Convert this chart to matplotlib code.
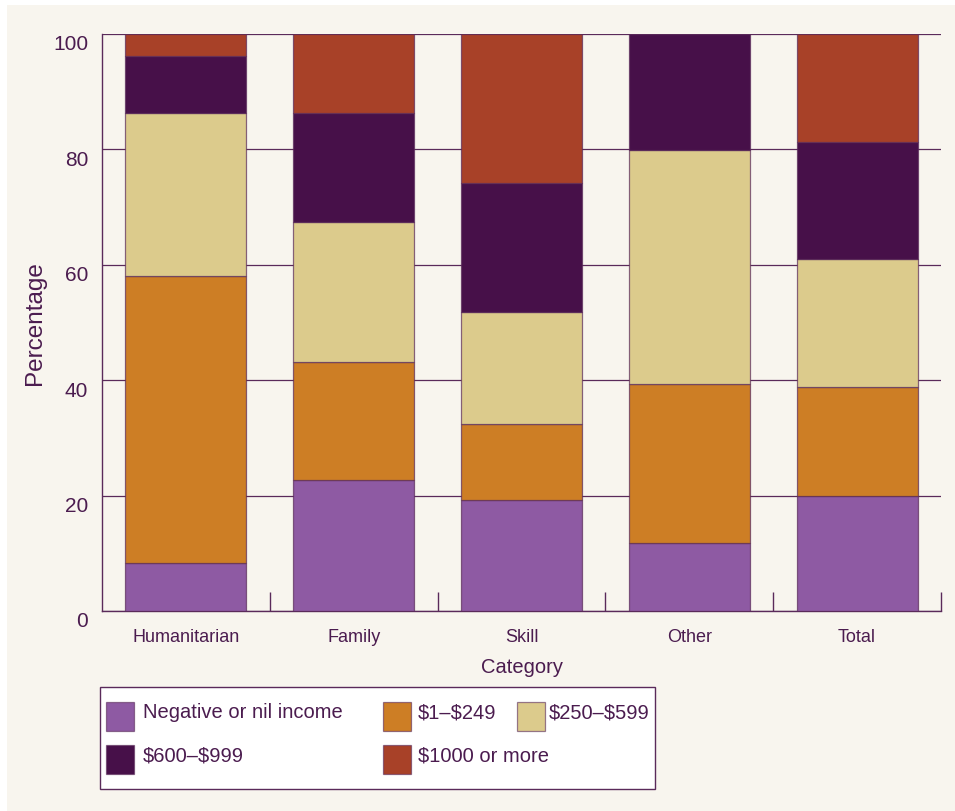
import matplotlib
matplotlib.use("Agg")
import matplotlib.pyplot as plt
import matplotlib.transforms as mtransforms
from matplotlib.patches import Rectangle
import numpy as np

plt.rcParams['font.family'] = ['Liberation Sans', 'DejaVu Sans']

categories = ["Humanitarian", "Family", "Skill", "Other", "Total"]
series_names = ["Negative or nil income", "\\$1\u2013\\$249", "\\$250\u2013\\$599",
                "\\$600\u2013\\$999", "\\$1000 or more"]
nil_income = [8.3, 22.7, 19.2, 11.8, 19.9]
inc_1_249 = [49.8, 20.5, 13.2, 27.5, 18.9]
inc_250_599 = [28.2, 24.2, 19.4, 40.6, 22.2]
inc_600_999 = [9.9, 18.9, 22.4, 20.1, 20.3]
inc_1000_plus = [3.8, 13.7, 25.8, 0.0, 18.7]
y_ticks = [0, 20, 40, 60, 80, 100]

colors = ["#8e5aa3", "#cd7e25", "#dccb8c", "#471049", "#a84128"]
text_color = "#4b1c4f"
line_color = "#5a2a5a"
bg = "#f8f5ee"

series = [nil_income, inc_1_249, inc_250_599, inc_600_999, inc_1000_plus]

fig = plt.figure(figsize=(9.55, 8.12), dpi=100)
fig.patch.set_facecolor("white")
fig.add_artist(Rectangle((7/955, 0), 1, 1 - 6/812, transform=fig.transFigure,
                         facecolor=bg, edgecolor="none", zorder=-10))

ax = fig.add_axes([102/955, 1 - 612/812, (941 - 102)/955, (612 - 35)/812])
ax.set_facecolor(bg)
x = np.arange(len(categories))
bottom = np.zeros(len(categories))
for vals, c in zip(series, colors):
    ax.bar(x, vals, bottom=bottom, width=0.72, color=c, edgecolor=(0.35, 0.16, 0.35, 0.7),
           linewidth=0.9, zorder=3)
    bottom += np.array(vals)

ax.set_xlim(-0.5, len(categories) - 0.5)
ax.set_ylim(0, 100)
ax.set_yticks(y_ticks)
ax.yaxis.grid(True, color=line_color, linewidth=0.9, zorder=0)
ax.set_axisbelow(True)
for s in ["top", "right"]:
    ax.spines[s].set_visible(False)
for s in ["left", "bottom"]:
    ax.spines[s].set_color(line_color)
    ax.spines[s].set_linewidth(1.0)

ax.tick_params(axis="y", length=0, pad=10, labelsize=15, labelcolor=text_color)
offset = mtransforms.ScaledTranslation(0, -8/100, fig.dpi_scale_trans)
for lab in ax.get_yticklabels():
    lab.set_transform(lab.get_transform() + offset)

ax.set_xticks(x)
ax.set_xticklabels(categories)
ax.tick_params(axis="x", length=0, pad=12, labelsize=13, labelcolor=text_color)
ax.set_xticks(np.arange(0.5, len(categories), 1.0), minor=True)
ax.tick_params(axis="x", which="minor", direction="in", length=14, color=line_color, width=1.0)

ax.set_ylabel("Percentage", fontsize=17.5, color=text_color, labelpad=5)
ax.set_xlabel("Category", fontsize=14.5, color=text_color, labelpad=9)

# legend box (manual layout)
lax = fig.add_axes([0, 0, 1, 1], zorder=5)
lax.set_xlim(0, 955)
lax.set_ylim(812, 0)
lax.axis("off")
lax.add_patch(Rectangle((100, 688), 555, 102, facecolor="white", edgecolor=line_color, linewidth=1.0))
slots = [(106, 703, 143), (383, 703, 418), (517, 703, 549), (106, 746, 143), (383, 746, 418)]
for (px, py, tx), name, c in zip(slots, series_names, colors):
    lax.add_patch(Rectangle((px, py), 28, 29, facecolor=c, edgecolor=(0.35, 0.16, 0.35, 0.6), linewidth=0.9))
    lax.text(tx, py + 10, name, fontsize=14.5, color=text_color, va="center", ha="left")

fig.savefig("out.png", dpi=100, facecolor=fig.get_facecolor())
